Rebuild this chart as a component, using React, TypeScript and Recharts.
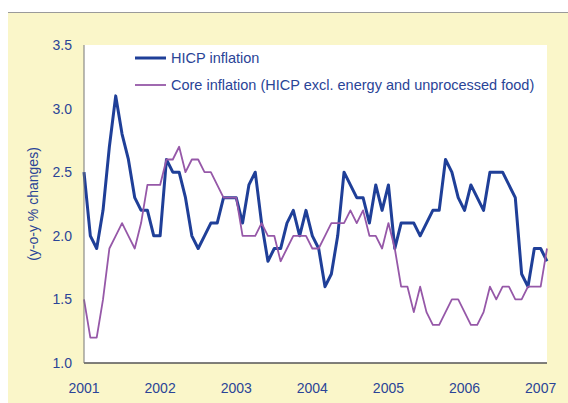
import React from 'react';
import { LineChart, Line, XAxis, YAxis, CartesianGrid, Legend } from 'recharts';

// Monthly, Dec 2000 .. Jan 2007 (x ticks at the start of each year label)
const yearLabels = ['2001', '2002', '2003', '2004', '2005', '2006', '2007'];

const hicp = [
  2.5,
  2.0, 1.9, 2.2, 2.7, 3.1, 2.8, 2.6, 2.3, 2.2, 2.2, 2.0, 2.0,
  2.6, 2.5, 2.5, 2.3, 2.0, 1.9, 2.0, 2.1, 2.1, 2.3, 2.3, 2.3,
  2.1, 2.4, 2.5, 2.1, 1.8, 1.9, 1.9, 2.1, 2.2, 2.0, 2.2, 2.0,
  1.9, 1.6, 1.7, 2.0, 2.5, 2.4, 2.3, 2.3, 2.1, 2.4, 2.2, 2.4,
  1.9, 2.1, 2.1, 2.1, 2.0, 2.1, 2.2, 2.2, 2.6, 2.5, 2.3, 2.2,
  2.4, 2.3, 2.2, 2.5, 2.5, 2.5, 2.4, 2.3, 1.7, 1.6, 1.9, 1.9,
  1.8,
];

const core = [
  1.5,
  1.2, 1.2, 1.5, 1.9, 2.0, 2.1, 2.0, 1.9, 2.1, 2.4, 2.4, 2.4,
  2.6, 2.6, 2.7, 2.5, 2.6, 2.6, 2.5, 2.5, 2.4, 2.3, 2.3, 2.3,
  2.0, 2.0, 2.0, 2.1, 2.0, 2.0, 1.8, 1.9, 2.0, 2.0, 2.0, 1.9,
  1.9, 2.0, 2.1, 2.1, 2.1, 2.2, 2.1, 2.2, 2.0, 2.0, 1.9, 2.1,
  1.9, 1.6, 1.6, 1.4, 1.6, 1.4, 1.3, 1.3, 1.4, 1.5, 1.5, 1.4,
  1.3, 1.3, 1.4, 1.6, 1.5, 1.6, 1.6, 1.5, 1.5, 1.6, 1.6, 1.6,
  1.9,
];

const yTicks = [1.0, 1.5, 2.0, 2.5, 3.0, 3.5];

const seriesNames = {
  hicp: 'HICP inflation',
  core: 'Core inflation (HICP excl. energy and unprocessed food)',
};
const yTitle = '(y-o-y % changes)';

const data = hicp.map((v, i) => ({ i, hicp: v, core: core[i] }));
const xTicks = yearLabels.map((_, k) => k * 12);

const BLUE = '#1F3F98';
const PURPLE = '#9658A8';
const TEXT = '#2A4497';
const FONT = '"Liberation Sans", Arial, sans-serif';

const YLabel = (props: any) => {
  const vb = props.viewBox || { x: 0, y: 45, width: 84, height: 318 };
  const cx = 33;
  const cy = vb.y + vb.height / 2;
  return (
    <text
      x={cx}
      y={cy}
      transform={`rotate(-90 ${cx} ${cy})`}
      textAnchor="middle"
      dominantBaseline="central"
      fill={TEXT}
      fontSize={14}
      fontFamily={FONT}
    >
      {yTitle}
    </text>
  );
};

const renderLegend = (props: any) => {
  const payload = (props.payload || []).slice();
  const order = ['hicp', 'core'];
  payload.sort((a: any, b: any) => order.indexOf(a.dataKey) - order.indexOf(b.dataKey));
  return (
    <div style={{ fontFamily: FONT, fontSize: 14.5, color: TEXT }}>
      {payload.map((p: any, k: number) => (
        <div key={k} style={{ display: 'flex', alignItems: 'center', height: 27, whiteSpace: 'nowrap' }}>
          <svg width={36} height={10} style={{ display: 'block' }}>
            <line x1={0} y1={5} x2={31} y2={5} stroke={p.color} strokeWidth={p.dataKey === 'hicp' ? 3 : 1.8} />
          </svg>
          <span>{p.value}</span>
        </div>
      ))}
    </div>
  );
};

export default function App() {
  return (
    <div style={{ position: 'absolute', left: 0, top: 0, width: 568, height: 403, background: '#fff', overflow: 'hidden' }}>
      <div style={{ position: 'absolute', left: 8, top: 12, width: 560, height: 1, background: '#9a9a9a' }} />
      <div style={{ position: 'absolute', left: 8, top: 13, width: 560, height: 390, background: '#FAF6C9' }} />
      <div style={{ position: 'absolute', left: 0, top: 0 }}>
        <LineChart
          width={568}
          height={403}
          data={data}
          margin={{ top: 45, right: 21, bottom: 10, left: 0 }}
          style={{ fontFamily: FONT }}
        >
          <CartesianGrid horizontal={false} vertical={false} fill="#ffffff" fillOpacity={1} />
          <XAxis
            dataKey="i"
            type="number"
            domain={[0, 73]}
            ticks={xTicks}
            interval={0}
            tickFormatter={(v: number) => yearLabels[Math.round(v / 12)]}
            axisLine={{ stroke: '#555555', strokeWidth: 1.5 }}
            tickLine={false}
            tickSize={6}
            tickMargin={14}
            height={30}
            tick={{ fill: TEXT, fontSize: 14, fontFamily: FONT }}
          />
          <YAxis
            type="number"
            domain={[1, 3.5]}
            ticks={yTicks}
            interval={0}
            tickFormatter={(v: number) => v.toFixed(1)}
            width={84}
            axisLine={{ stroke: '#777777', strokeWidth: 1 }}
            tickLine={false}
            tickSize={6}
            tickMargin={6}
            tick={{ fill: TEXT, fontSize: 14, fontFamily: FONT }}
            label={<YLabel />}
          />
          <Legend
            layout="vertical"
            align="center"
            verticalAlign="middle"
            width={420}
            wrapperStyle={{ left: 135, top: 44, width: 420 }}
            content={renderLegend}
          />
          <Line
            type="linear"
            dataKey="hicp"
            name={seriesNames.hicp}
            stroke={BLUE}
            strokeWidth={3}
            strokeLinejoin="round"
            dot={false}
            activeDot={false}
            isAnimationActive={false}
          />
          <Line
            type="linear"
            dataKey="core"
            name={seriesNames.core}
            stroke={PURPLE}
            strokeWidth={1.8}
            strokeLinejoin="round"
            dot={false}
            activeDot={false}
            isAnimationActive={false}
          />
        </LineChart>
      </div>
    </div>
  );
}
